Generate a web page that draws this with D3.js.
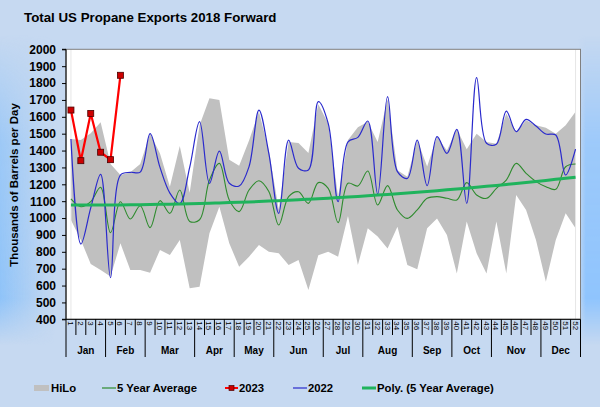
<!DOCTYPE html>
<html><head><meta charset="utf-8">
<script src="https://cdn.jsdelivr.net/npm/d3@7"></script>
<style>
html,body{margin:0;padding:0;background:#c6d9f1;}
svg{display:block;font-family:Arial,"Liberation Sans",sans-serif;}
</style></head>
<body><svg id="c" width="600" height="407"></svg>
<script>
const weeks = d3.range(1, 53);
const months = ["Jan","Feb","Mar","Apr","May","Jun","Jul","Aug","Sep","Oct","Nov","Dec"];
const monthEndWeek = [4, 8, 13, 17, 21, 26, 30, 35, 39, 43, 48, 52];
const yTicks = d3.range(400, 2001, 100);

const hiLoHigh = [1468,1462,1502,1567,1320,1255,1272,1320,1500,1383,1186,1427,
  1150,1550,1710,1700,1345,1310,1460,1630,1400,1050,1450,1445,1385,1675,
  1560,1127,1462,1538,1570,1450,1705,1283,1245,1462,1305,1482,1400,1526,
  1408,1500,1450,1440,1620,1510,1580,1550,1535,1500,1550,1630];
const hiLoLow = [988,870,728,692,653,850,692,692,676,811,781,870,
  584,593,910,1067,850,712,771,840,800,791,722,751,574,780,
  801,771,1012,722,939,890,820,949,722,696,939,998,900,672,
  979,791,672,979,672,1137,1048,870,623,870,1028,939];
const avg5 = [1113,1067,1097,1182,913,1097,994,1073,943,1103,1028,1166,
  980,990,1225,1324,1107,1038,1166,1221,1157,959,1127,1156,1087,1210,
  1176,973,1206,1190,1279,1077,1192,1048,998,1048,1117,1127,1117,1107,
  1210,1137,1117,1176,1225,1324,1265,1216,1186,1170,1304,1320];
const y2023 = [1640,1340,1620,1390,1346,1846];
const y2022 = [1468,846,1060,1259,647,1255,1271,1272,1500,1300,1148,1085,
  1300,1571,1206,1397,1206,1190,1305,1640,1383,1028,1462,1295,1285,1690,
  1561,1097,1452,1478,1575,1142,1720,1275,1235,1462,1192,1482,1383,1526,
  1087,1832,1443,1437,1634,1512,1585,1545,1498,1492,1255,1409];

const svg = d3.select("#c");
const W = 600, H = 407;
const L = 66, R = 580.5, T = 49.3, B = 319.3;

// background
const defs = svg.append("defs");
const gl = defs.append("linearGradient").attr("id","gl").attr("x1","0").attr("x2","1").attr("y1","0").attr("y2","0");
gl.append("stop").attr("offset","0").attr("stop-color","#8fc3f8").attr("stop-opacity",1);
gl.append("stop").attr("offset","1").attr("stop-color","#8fc3f8").attr("stop-opacity",0);
const gr = defs.append("linearGradient").attr("id","gr").attr("x1","0").attr("x2","1").attr("y1","0").attr("y2","0");
gr.append("stop").attr("offset","0").attr("stop-color","#8fc4fd").attr("stop-opacity",0);
gr.append("stop").attr("offset","0.35").attr("stop-color","#8fc4fd").attr("stop-opacity",1);
gr.append("stop").attr("offset","1").attr("stop-color","#8fc4fd").attr("stop-opacity",1);
const gv = defs.append("linearGradient").attr("id","gv").attr("x1","0").attr("x2","0").attr("y1","0").attr("y2","1");
gv.append("stop").attr("offset","0").attr("stop-color","#fff").attr("stop-opacity",0);
gv.append("stop").attr("offset","0.35").attr("stop-color","#fff").attr("stop-opacity",0.75);
gv.append("stop").attr("offset","0.85").attr("stop-color","#fff").attr("stop-opacity",1);
gv.append("stop").attr("offset","1").attr("stop-color","#fff").attr("stop-opacity",0);
defs.append("mask").attr("id","mv").attr("maskContentUnits","objectBoundingBox")
  .append("rect").attr("width",1).attr("height",1).attr("fill","url(#gv)");
svg.append("rect").attr("width",W).attr("height",H).attr("fill","#c6d9f1");
svg.append("rect").attr("x",0).attr("y",35).attr("width",55).attr("height",310).attr("fill","url(#gl)").attr("mask","url(#mv)");
svg.append("rect").attr("x",578).attr("y",35).attr("width",22).attr("height",310).attr("fill","url(#gr)").attr("mask","url(#mv)");

const x = d3.scaleBand().domain(weeks).range([L, R]).padding(0);
const cx = w => x(w) + x.bandwidth() / 2;
const y = d3.scaleLinear().domain([400, 2000]).range([B, T]);

// plot area
svg.append("rect").attr("x",L).attr("y",T).attr("width",R-L).attr("height",B-T).attr("fill","#ffffff");

// HiLo band
const band = weeks.map((w,i)=>({w, hi:hiLoHigh[i], lo:hiLoLow[i]}));
svg.append("path").datum(band)
  .attr("d", d3.area().x(d=>cx(d.w)).y0(d=>y(d.lo)).y1(d=>y(d.hi)))
  .attr("fill","#c0c0c0");

// faint drop lines at ends
[1,52].forEach(w=>{
  svg.append("line").attr("x1",cx(w)).attr("x2",cx(w)).attr("y1",T).attr("y2",B)
    .attr("stroke","#e6e6e6").attr("stroke-width",1);
});

const smooth = d3.line().x(d=>cx(d.w)).y(d=>y(d.v)).curve(d3.curveCatmullRom.alpha(0.5));

// 5 year average
const avgData = weeks.map((w,i)=>({w, v:avg5[i]}));
svg.append("path").datum(avgData).attr("d", smooth).attr("fill","none")
  .attr("stroke","#2e8b2e").attr("stroke-width",1.1);

// 2022
const d22 = weeks.map((w,i)=>({w, v:y2022[i]}));
svg.append("path").datum(d22).attr("d", smooth).attr("fill","none")
  .attr("stroke","#2a2acc").attr("stroke-width",1.2);

// polynomial (order 2) trend of 5 year average, least squares
function polyFit(xs, ys){
  let s = [0,0,0,0,0], t=[0,0,0];
  xs.forEach((xv,i)=>{ let p=1; for(let k=0;k<5;k++){ s[k]+=p; if(k<3) t[k]+=p*ys[i]; p*=xv; } });
  const A = [[s[0],s[1],s[2],t[0]],[s[1],s[2],s[3],t[1]],[s[2],s[3],s[4],t[2]]];
  for(let i=0;i<3;i++){ for(let j=i+1;j<3;j++){ const f=A[j][i]/A[i][i]; for(let k=i;k<4;k++) A[j][k]-=f*A[i][k]; } }
  const c=[0,0,0];
  for(let i=2;i>=0;i--){ let v=A[i][3]; for(let k=i+1;k<3;k++) v-=A[i][k]*c[k]; c[i]=v/A[i][i]; }
  return c;
}
const coef = polyFit(weeks, avg5);
const trend = weeks.map(w=>({w, v: coef[0]+coef[1]*w+coef[2]*w*w}));
svg.append("path").datum(trend).attr("d", d3.line().x(d=>cx(d.w)).y(d=>y(d.v)).curve(d3.curveMonotoneX))
  .attr("fill","none").attr("stroke","#1fb35c").attr("stroke-width",3);

// 2023
const d23 = y2023.map((v,i)=>({w:weeks[i], v}));
svg.append("path").datum(d23).attr("d", d3.line().x(d=>cx(d.w)).y(d=>y(d.v)))
  .attr("fill","none").attr("stroke","#ff0000").attr("stroke-width",2.2);
svg.selectAll(".m23").data(d23).enter().append("rect")
  .attr("x",d=>cx(d.w)-3).attr("y",d=>y(d.v)-3).attr("width",6).attr("height",6)
  .attr("fill","#cc0000").attr("stroke","#4d0000").attr("stroke-width",0.8);

// plot border
svg.append("rect").attr("x",L).attr("y",T).attr("width",R-L).attr("height",B-T)
  .attr("fill","none").attr("stroke","#808080").attr("stroke-width",1);

// y axis
const yAxis = d3.axisLeft(y).tickValues(yTicks).tickSize(4).tickFormat(d3.format("d"));
const ya = svg.append("g").attr("transform",`translate(${L},0)`).call(yAxis);
ya.select(".domain").attr("stroke","#000").attr("d",`M-4,${B}H0V${T}H-4`);
ya.selectAll(".tick line").attr("stroke","#000");
ya.selectAll(".tick text").attr("font-size","12px").attr("font-weight","bold").attr("fill","#000")
  .attr("font-family","Arial,'Liberation Sans',sans-serif").attr("x",-10);

// x axis: week boundaries & labels
const xa = svg.append("g");
xa.append("line").attr("x1",L).attr("x2",R).attr("y1",B).attr("y2",B).attr("stroke","#000");
weeks.forEach(w=>{
  const xb = x(w);
  const isMonth = monthEndWeek.indexOf(w-1) >= 0 || w===1;
  xa.append("line").attr("x1",xb).attr("x2",xb).attr("y1",B).attr("y2", isMonth?357:335)
    .attr("stroke","#000").attr("stroke-width",1);
  xa.append("text").attr("transform",`translate(${cx(w)-3},${B+2}) rotate(90)`)
    .attr("font-size","8px").attr("fill","#000").text(w);
});
xa.append("line").attr("x1",R).attr("x2",R).attr("y1",B).attr("y2",357).attr("stroke","#000");
let startW = 1;
monthEndWeek.forEach((e,i)=>{
  const mx = (x(startW) + x(e) + x.bandwidth())/2;
  xa.append("text").attr("x",mx).attr("y",354).attr("text-anchor","middle")
    .attr("font-size","10px").attr("font-weight","bold").attr("fill","#000").text(months[i]);
  startW = e+1;
});

// y title
svg.append("text").attr("transform","translate(18,185) rotate(-90)").attr("text-anchor","middle")
  .attr("font-size","11.5px").attr("font-weight","bold").attr("fill","#000").text("Thousands of Barrels per Day");

// title
svg.append("text").attr("x",24).attr("y",21.5).attr("font-size","13.3px").attr("font-weight","bold")
  .attr("fill","#000").text("Total US Propane Exports 2018 Forward");

// legend
const lg = svg.append("g").attr("font-size","11.3px").attr("font-weight","bold").attr("fill","#000");
const ly = 388;
lg.append("rect").attr("x",34).attr("y",ly-3).attr("width",15).attr("height",6).attr("fill","#c0c0c0");
lg.append("text").attr("x",51).attr("y",ly+4).text("HiLo");
lg.append("line").attr("x1",102).attr("x2",116).attr("y1",ly).attr("y2",ly).attr("stroke","#2e8b2e").attr("stroke-width",1.2);
lg.append("text").attr("x",117).attr("y",ly+4).text("5 Year Average");
lg.append("line").attr("x1",225).attr("x2",238).attr("y1",ly).attr("y2",ly).attr("stroke","#ff0000").attr("stroke-width",2);
lg.append("rect").attr("x",229).attr("y",ly-2.5).attr("width",5).attr("height",5).attr("fill","#cc0000").attr("stroke","#4d0000").attr("stroke-width",0.7);
lg.append("text").attr("x",239).attr("y",ly+4).text("2023");
lg.append("line").attr("x1",293).attr("x2",307).attr("y1",ly).attr("y2",ly).attr("stroke","#2a2acc").attr("stroke-width",1.2);
lg.append("text").attr("x",308).attr("y",ly+4).text("2022");
lg.append("line").attr("x1",362).attr("x2",376).attr("y1",ly).attr("y2",ly).attr("stroke","#1fb35c").attr("stroke-width",3);
lg.append("text").attr("x",377).attr("y",ly+4).text("Poly. (5 Year Average)");
</script></body></html>
